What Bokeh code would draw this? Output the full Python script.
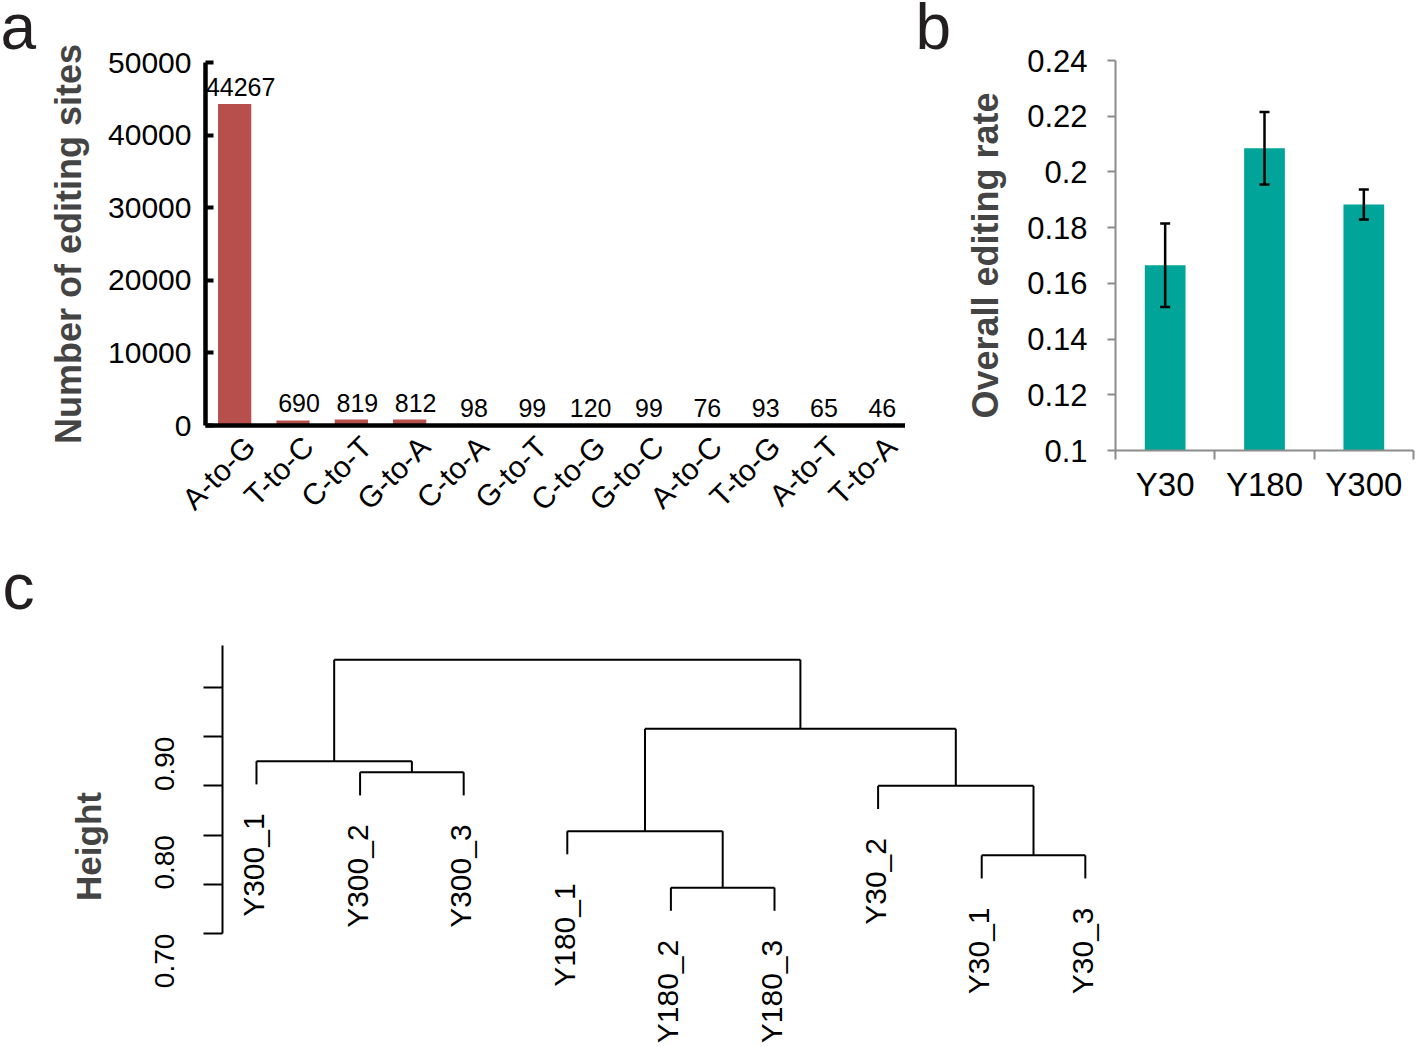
import math
from bokeh.plotting import figure
from bokeh.models import (Range1d, FixedTicker, ColumnDataSource, Whisker,
                          TeeHead, LinearAxis)
from bokeh.layouts import column, row
from bokeh.embed import file_html
from bokeh.resources import INLINE
from bokeh.core.properties import value

FONT = "Liberation Sans"

# ---------------- data ----------------
sub_types = ["A-to-G", "T-to-C", "C-to-T", "G-to-A", "C-to-A", "G-to-T",
             "C-to-G", "G-to-C", "A-to-C", "T-to-G", "A-to-T", "T-to-A"]
sub_counts = [44267, 690, 819, 812, 98, 99, 120, 99, 76, 93, 65, 46]
a_yticks = [0, 10000, 20000, 30000, 40000, 50000]

groups = ["Y30", "Y180", "Y300"]
rate_mean = [0.1665, 0.2085, 0.1883]
rate_err = [0.0150, 0.0130, 0.0054]
b_yticks = [0.10, 0.12, 0.14, 0.16, 0.18, 0.20, 0.22, 0.24]
b_ylabels = ["0.1", "0.12", "0.14", "0.16", "0.18", "0.2", "0.22", "0.24"]

leaf_order = ["Y300_1", "Y300_2", "Y300_3", "Y180_1", "Y180_2", "Y180_3",
              "Y30_2", "Y30_1", "Y30_3"]
# hclust-style merges: negative = leaf (1-based in leaf_order), positive = earlier merge
merge_a = [-2, -1, -5, -4, -8, -7, 4, 2]
merge_b = [-3, 1, -6, 3, -9, 5, 6, 7]
merge_h = [0.8638, 0.8750, 0.7467, 0.8040, 0.7795, 0.8500, 0.9080, 0.9780]
hang = 0.0235
c_major = [0.70, 0.80, 0.90]
c_minor = [0.75, 0.85, 0.95]

panel_letters = ["a", "b", "c"]


def letter_fig(letter, w, h, left, baseline):
    f = figure(width=w, height=h, x_range=Range1d(0, w), y_range=Range1d(h, 0),
               output_backend="svg", toolbar_location=None,
               x_axis_location=None, y_axis_location=None,
               min_border=0, min_border_left=0, min_border_right=0,
               min_border_top=0, min_border_bottom=0)
    f.outline_line_color = None
    f.grid.visible = False
    f.text(x=[left], y=[baseline], text=[letter], text_font=value(FONT),
           text_font_size="64px", text_color="#231F20", text_align="left",
           text_baseline="alphabetic")
    return f


TOP_H = 568

# ---------------- panel a ----------------
na = len(sub_types)
xpos_a = [i + 0.5 for i in range(na)]
pa = figure(width=860, height=TOP_H, x_range=Range1d(0, na),
            y_range=Range1d(0, 50000), output_backend="svg", toolbar_location=None,
            x_axis_location=None,
            min_border_left=160, min_border_right=0, min_border_top=62, min_border_bottom=143)
pa.outline_line_color = None
pa.grid.visible = False
src_a = ColumnDataSource(dict(x=xpos_a, top=sub_counts, lab=[str(v) for v in sub_counts]))
pa.vbar(x="x", top="top", width=0.57, source=src_a, fill_color="#B7504C", line_color=None)
pa.text(x="x", y="top", text="lab", source=src_a, text_align="center",
        text_baseline="alphabetic", x_offset=6, y_offset=-17, text_font_size="25px",
        text_font=value(FONT), text_color="black")

# category label axis, labels nudged right like the original
pa.extra_x_ranges = {"lab": Range1d(-0.26, na - 0.26)}
xa = LinearAxis(x_range_name="lab", ticker=FixedTicker(ticks=xpos_a),
                major_label_overrides={p: s for p, s in zip(xpos_a, sub_types)})
pa.add_layout(xa, "below")
xa.major_tick_line_color = None
xa.minor_tick_line_color = None
xa.major_label_orientation = math.pi / 4
xa.major_label_text_font_size = "30px"
xa.major_label_standoff = 10

pa.yaxis.ticker = FixedTicker(ticks=a_yticks)
pa.yaxis.minor_tick_line_color = None
pa.yaxis.major_tick_in = 8
pa.yaxis.major_tick_out = 0
pa.yaxis.major_tick_line_width = 4
for ax in (xa, pa.yaxis[0]):
    ax.axis_line_width = 4.5
    ax.axis_line_color = "black"
    ax.major_label_text_font = FONT
    ax.major_label_text_color = "black"
    ax.axis_label_text_font = FONT
pa.yaxis.major_label_text_font_size = "30px"
pa.yaxis.major_label_standoff = 14
pa.yaxis.axis_label = "Number of editing sites"
pa.yaxis.axis_label_text_font_size = "36px"
pa.yaxis.axis_label_text_font_style = "bold"
pa.yaxis.axis_label_standoff = 16

# ---------------- panel b ----------------
xb = [i + 0.5 for i in range(len(groups))]
pb = figure(width=463, height=TOP_H, x_range=Range1d(0, 3), y_range=Range1d(0.10, 0.24),
            output_backend="svg", toolbar_location=None,
            min_border_left=160, min_border_right=5, min_border_top=60, min_border_bottom=118)
pb.outline_line_color = None
pb.grid.visible = False
src_b = ColumnDataSource(dict(x=xb, top=rate_mean,
                              up=[m + e for m, e in zip(rate_mean, rate_err)],
                              lo=[m - e for m, e in zip(rate_mean, rate_err)]))
pb.vbar(x="x", top="top", bottom=0.10, width=0.41, source=src_b,
        fill_color="#00A499", line_color=None)
wk = Whisker(base="x", upper="up", lower="lo", source=src_b, line_width=2.5,
             line_color="black", level="overlay",
             upper_head=TeeHead(size=10, line_width=2.5, line_color="black"),
             lower_head=TeeHead(size=10, line_width=2.5, line_color="black"))
pb.add_layout(wk)
pb.yaxis.ticker = FixedTicker(ticks=b_yticks)
pb.yaxis.major_label_overrides = {t: l for t, l in zip(b_yticks, b_ylabels)}
pb.yaxis.minor_tick_line_color = None
pb.yaxis.major_tick_in = 0
pb.yaxis.major_tick_out = 8
pb.xaxis.ticker = FixedTicker(ticks=xb, minor_ticks=[0, 1, 2, 3])
pb.xaxis.major_label_overrides = {x: g for x, g in zip(xb, groups)}
pb.xaxis.major_tick_in = 0
pb.xaxis.major_tick_out = 0
pb.xaxis.minor_tick_in = 0
pb.xaxis.minor_tick_out = 9
pb.xaxis.minor_tick_line_color = "#8C8C8C"
pb.xaxis.minor_tick_line_width = 2
for ax in (pb.xaxis[0], pb.yaxis[0]):
    ax.axis_line_width = 2
    ax.axis_line_color = "#8C8C8C"
    ax.major_tick_line_color = "#8C8C8C"
    ax.major_tick_line_width = 2
    ax.major_label_text_font = FONT
    ax.major_label_text_color = "black"
    ax.axis_label_text_font = FONT
pb.yaxis.major_label_text_font_size = "31px"
pb.yaxis.major_label_standoff = 20
pb.xaxis.major_label_text_font_size = "33px"
pb.xaxis.major_label_standoff = 6
pb.yaxis.axis_label = "Overall editing rate"
pb.yaxis.axis_label_text_font_size = "36px"
pb.yaxis.axis_label_text_font_style = "bold"
pb.yaxis.axis_label_standoff = 18

# ---------------- panel c (dendrogram) ----------------
n = len(leaf_order)
node_x, node_h = {}, {}
xs0, xs1, ys0, ys1 = [], [], [], []
leaf_end = {}
for k, (a, b, h) in enumerate(zip(merge_a, merge_b, merge_h), start=1):
    cx, ctop = [], []
    for c in (a, b):
        if c < 0:
            cx.append(float(-c))
            ctop.append(h - hang)
            leaf_end[-c] = h - hang
        else:
            cx.append(node_x[c])
            ctop.append(node_h[c])
    for xx, yy in zip(cx, ctop):
        xs0.append(xx); xs1.append(xx); ys0.append(yy); ys1.append(h)
    xs0.append(cx[0]); xs1.append(cx[1]); ys0.append(h); ys1.append(h)
    node_x[k] = (cx[0] + cx[1]) / 2
    node_h[k] = h

BOT_H = 1047 - TOP_H
pc = figure(width=1370, height=BOT_H, x_range=Range1d(0.672, 12.216),
            y_range=Range1d(0.5844, 0.9925), output_backend="svg", toolbar_location=None,
            x_axis_location=None, min_border_left=174, min_border_right=0,
            min_border_top=77, min_border_bottom=0)
pc.outline_line_color = None
pc.grid.visible = False
pc.segment(x0=xs0, y0=ys0, x1=xs1, y1=ys1, line_color="black", line_width=2)
pc.text(x=[float(i) for i in range(1, n + 1)], y=[leaf_end[i] for i in range(1, n + 1)],
        text=leaf_order, angle=math.pi / 2, text_align="right", text_baseline="middle",
        y_offset=29, x_offset=-3, text_font_size="30px", text_font=value(FONT),
        text_color="black")
ya = pc.yaxis[0]
ya.bounds = (0.70, 0.9925)
ya.ticker = FixedTicker(ticks=c_major, minor_ticks=c_minor)
ya.major_label_overrides = {0.70: "0.70", 0.80: "0.80", 0.90: "0.90"}
ya.axis_line_width = 2
ya.major_tick_line_width = 2
ya.minor_tick_line_width = 2
ya.minor_tick_line_color = "black"
ya.major_tick_in = 0
ya.minor_tick_in = 0
ya.major_tick_out = 19
ya.minor_tick_out = 19
ya.major_label_orientation = math.pi / 2
ya.major_label_text_font = FONT
ya.major_label_text_font_size = "28px"
ya.major_label_text_color = "black"
ya.major_label_standoff = 39
ya.axis_label = "Height"
ya.axis_label_text_font = FONT
ya.axis_label_text_font_size = "35px"
ya.axis_label_text_font_style = "bold"
ya.axis_label_standoff = 35

fa = letter_fig(panel_letters[0], 45, TOP_H, 0, 26)
fb = letter_fig(panel_letters[1], 50, TOP_H, 10, 26)
fc = letter_fig(panel_letters[2], 48, BOT_H, 2, 18)

layout = column(row(column(fa), column(pa), column(fb), column(pb)),
                row(column(fc), column(pc)))
open("out.html", "w").write(file_html(layout, INLINE))
